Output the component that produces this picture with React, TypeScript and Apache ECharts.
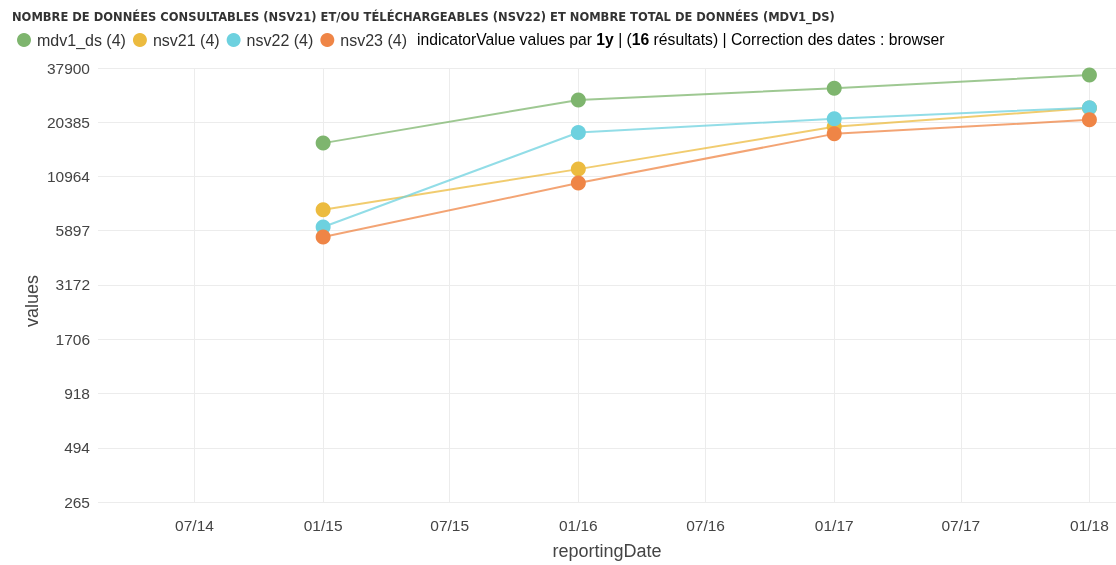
import React, { useEffect, useRef } from "react";
import * as echarts from "echarts";

const titleText =
  "NOMBRE DE DONNÉES CONSULTABLES (NSV21) ET/OU TÉLÉCHARGEABLES (NSV22) ET NOMBRE TOTAL DE DONNÉES (MDV1_DS)";
const seriesNames = ["mdv1_ds (4)", "nsv21 (4)", "nsv22 (4)", "nsv23 (4)"];
const seriesColors = ["#7eb56e", "#ecbb3f", "#6dd1df", "#ef8546"];
const reportingDates = ["2015-01-01", "2016-01-01", "2017-01-01", "2018-01-01"];
const mdv1Values = [16060, 26320, 30080, 34990];
const nsv21Values = [7500, 11930, 19340, 24010];
const nsv22Values = [6160, 18120, 21190, 24090];
const nsv23Values = [5495, 10170, 17850, 20950];
const yTickLabels = [265, 494, 918, 1706, 3172, 5897, 10964, 20385, 37900];
const infoParts = [
  ["a", "indicatorValue values par "],
  ["b", "1y"],
  ["a", " | ("],
  ["b", "16"],
  ["a", " résultats) | Correction des dates : browser"],
];

const FONT = "'Liberation Sans', Arial, Helvetica, sans-serif";

export default function App() {
  const ref = useRef<HTMLDivElement>(null);
  useEffect(() => {
    document.body.style.margin = "0";
    const chart = echarts.init(ref.current!, null, { renderer: "svg" });
    const allValues = [mdv1Values, nsv21Values, nsv22Values, nsv23Values];
    const nearestLabel = (v: number) => {
      let best = yTickLabels[0];
      let bd = Infinity;
      for (const t of yTickLabels) {
        const d = Math.abs(Math.log(t) - Math.log(v));
        if (d < bd) {
          bd = d;
          best = t;
        }
      }
      return String(best);
    };
    chart.setOption({
      animation: false,
      useUTC: true,
      textStyle: { fontFamily: FONT },
      title: {
        text: titleText,
        left: 12,
        top: 11,
        padding: 0,
        textStyle: {
          fontSize: 11.5,
          fontWeight: "bold",
          color: "#333",
          fontFamily: "'DejaVu Sans', sans-serif",
        },
      },
      legend: {
        left: 17,
        top: 32,
        padding: 0,
        icon: "circle",
        itemWidth: 16,
        itemHeight: 14,
        itemGap: 7,
        textStyle: { fontSize: 16, color: "#333", fontFamily: FONT },
        data: seriesNames,
      },
      graphic: [
        {
          type: "text",
          left: 417,
          top: 31,
          style: {
            text: infoParts.map(([k, t]) => `{${k}|${t}}`).join(""),
            rich: {
              a: { fontSize: 15.7, color: "#333", fontFamily: FONT },
              b: { fontSize: 15.7, color: "#333", fontWeight: "bold", fontFamily: FONT },
            },
          },
        },
      ],
      grid: { left: 98, right: 0, top: 68, bottom: 62, containLabel: false },
      xAxis: {
        type: "time",
        min: Date.parse("2014-02-13"),
        max: Date.parse("2018-02-08"),
        splitNumber: 8,
        name: "reportingDate",
        nameLocation: "middle",
        nameGap: 40,
        nameMoveOverlap: false,
        nameTextStyle: { fontSize: 18, color: "#444", fontFamily: FONT },
        axisLine: { show: false },
        axisTick: { show: false },
        axisLabel: {
          formatter: "{MM}/{yy}",
          showMinLabel: false,
          showMaxLabel: false,
          color: "#444",
          fontSize: 15.5,
          margin: 15,
          fontFamily: FONT,
        },
        splitLine: {
          show: true,
          showMinLine: false,
          showMaxLine: false,
          lineStyle: { color: "#ececec" },
        },
      },
      yAxis: {
        type: "log",
        logBase: 1.85924,
        min: 265.5,
        max: 37900,
        name: "values",
        nameLocation: "middle",
        nameGap: 57,
        nameMoveOverlap: false,
        nameTextStyle: {
          fontSize: 18,
          color: "#444",
          fontFamily: FONT,
          padding: [0, 32, 0, 0],
        },
        axisLine: { show: false },
        axisTick: { show: false },
        axisLabel: {
          formatter: (v: number) => nearestLabel(v),
          color: "#444",
          fontSize: 15.5,
          margin: 8,
          fontFamily: FONT,
        },
        splitLine: { show: true, lineStyle: { color: "#ececec" } },
      },
      series: seriesNames.map((name, i) => ({
        name,
        type: "line",
        symbol: "circle",
        symbolSize: 15,
        color: seriesColors[i],
        lineStyle: { width: 2, opacity: 0.75 },
        itemStyle: { color: seriesColors[i] },
        emphasis: { disabled: true },
        data: reportingDates.map((d, j) => [Date.parse(d), allValues[i][j]]),
      })),
    });
    return () => chart.dispose();
  }, []);
  return (
    <div
      ref={ref}
      style={{ position: "fixed", left: 0, top: 0, width: 1116, height: 565 }}
    />
  );
}
